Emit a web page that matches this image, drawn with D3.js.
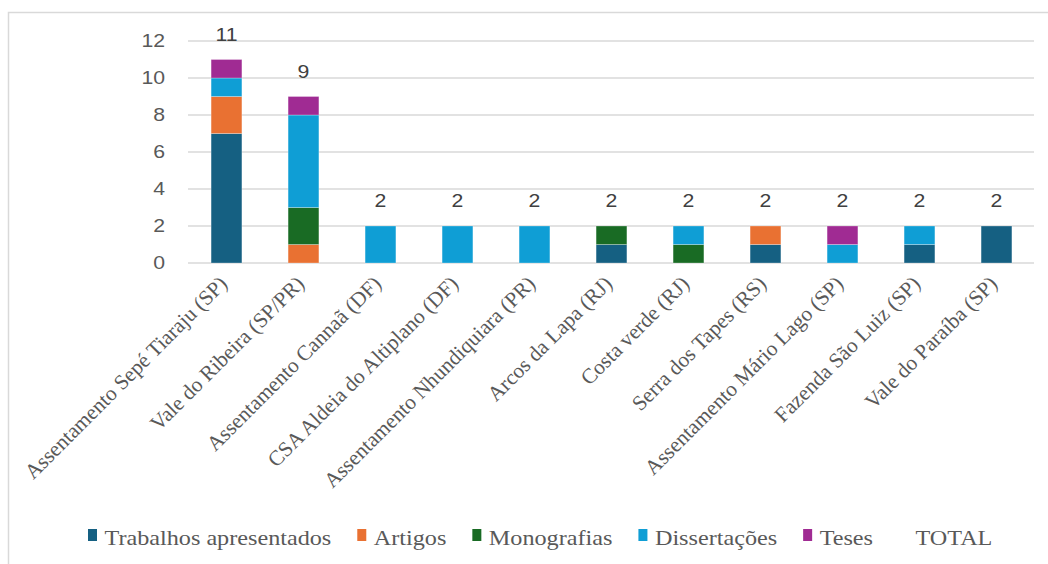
<!DOCTYPE html>
<html>
<head>
<meta charset="utf-8">
<script src="https://cdn.jsdelivr.net/npm/d3@7"></script>
<style>
  html, body { margin: 0; padding: 0; background: #fff; }
  svg { display: block; }
</style>
</head>
<body>
<svg id="chart" width="1048" height="564"></svg>
<script>
const categories = [
  "Assentamento Sepé Tiaraju (SP)",
  "Vale do Ribeira (SP/PR)",
  "Assentamento Cannaã (DF)",
  "CSA Aldeia do Altiplano (DF)",
  "Assentamento Nhundiquiara (PR)",
  "Arcos da Lapa (RJ)",
  "Costa verde (RJ)",
  "Serra dos Tapes (RS)",
  "Assentamento Mário Lago (SP)",
  "Fazenda São Luiz (SP)",
  "Vale do Paraíba (SP)"
];
const seriesNames = ["Trabalhos apresentados", "Artigos", "Monografias", "Dissertações", "Teses"];
const trabalhos    = [7, 0, 0, 0, 0, 1, 0, 1, 0, 1, 2];
const artigos      = [2, 1, 0, 0, 0, 0, 0, 1, 0, 0, 0];
const monografias  = [0, 2, 0, 0, 0, 1, 1, 0, 0, 0, 0];
const dissertacoes = [1, 5, 2, 2, 2, 0, 1, 0, 1, 1, 0];
const teses        = [1, 1, 0, 0, 0, 0, 0, 0, 1, 0, 0];
const totals       = [11, 9, 2, 2, 2, 2, 2, 2, 2, 2, 2];
const yTicks = [0, 2, 4, 6, 8, 10, 12];
const colors = ["#156082", "#E97132", "#196B24", "#0F9ED5", "#A02B93"];

const seriesValues = [trabalhos, artigos, monografias, dissertacoes, teses];
const rows = categories.map((c, i) => {
  const r = { cat: c };
  seriesNames.forEach((s, k) => r[s] = seriesValues[k][i]);
  return r;
});

const svg = d3.select("#chart");
const SANS = "'Liberation Sans', Arial, sans-serif";
const SERIF = "'Liberation Serif', 'Times New Roman', serif";
const NUM_SX = 1.18;

// outer border
svg.append("rect")
  .attr("x", 8.5).attr("y", 12.5).attr("width", 1100).attr("height", 600)
  .attr("fill", "none").attr("stroke", "#d9d9d9").attr("stroke-width", 1.5);

const x = d3.scaleBand().domain(categories).range([188, 1035]).paddingInner(0.6).paddingOuter(0.3);
const y = d3.scaleLinear().domain([0, 12]).range([263, 41]);

// gridlines
svg.append("g").selectAll("line").data(yTicks).join("line")
  .attr("x1", 188).attr("x2", 1034)
  .attr("y1", d => y(d)).attr("y2", d => y(d))
  .attr("stroke", "#d9d9d9").attr("stroke-width", 1.5);

// y axis labels
const yAxis = d3.axisLeft(y).tickValues(yTicks).tickSize(0).tickPadding(0);
const yg = svg.append("g").attr("transform", "translate(165,0)").call(yAxis);
yg.select(".domain").remove();
yg.selectAll("text")
  .attr("font-family", SANS)
  .attr("font-size", 18).attr("fill", "#595959")
  .attr("transform", `scale(${NUM_SX},1)`);

// stacked bars
const stack = d3.stack().keys(seriesNames);
const stacked = stack(rows);
svg.append("g").selectAll("g").data(stacked).join("g")
  .attr("fill", (d, i) => colors[i])
  .selectAll("rect").data(d => d.filter(p => p[1] - p[0] > 0)).join("rect")
  .attr("x", d => x(d.data.cat))
  .attr("width", x.bandwidth())
  .attr("y", d => y(d[1]))
  .attr("height", d => y(d[0]) - y(d[1]))
  .attr("stroke", "#ffffff").attr("stroke-opacity", 0.35).attr("stroke-width", 0.8);

// total labels
svg.append("g").selectAll("text").data(categories).join("text")
  .attr("transform", (d, i) => `translate(${x(d) + x.bandwidth() / 2},${y(totals[i]) - 19}) scale(${NUM_SX},1)`)
  .attr("text-anchor", "middle")
  .attr("font-family", SANS)
  .attr("font-size", 18).attr("fill", "#404040")
  .text((d, i) => totals[i]);

// category labels
svg.append("g").selectAll("text").data(categories).join("text")
  .attr("transform", d => `translate(${x(d) + x.bandwidth() / 2 + 2},${285}) rotate(-45)`)
  .attr("text-anchor", "end")
  .attr("font-family", SERIF)
  .attr("font-size", 21.3).attr("fill", "#595959")
  .text(d => d);

// legend
const LEG_SX = 1.1;
const legendNames = seriesNames.concat(["TOTAL"]);
const lg = svg.append("g");
const items = lg.selectAll("g").data(legendNames).join("g");
items.filter((d, i) => i < colors.length).append("rect")
  .attr("x", 0).attr("y", -8).attr("width", 9).attr("height", 12)
  .attr("fill", (d, i) => colors[i]);
items.append("text")
  .attr("transform", `translate(16.5,0) scale(${LEG_SX},1)`)
  .attr("dominant-baseline", "central")
  .attr("font-family", SERIF)
  .attr("font-size", 22).attr("fill", "#595959")
  .text(d => d);
let cx = 88;
items.each(function () {
  const g = d3.select(this);
  g.attr("transform", `translate(${cx},537)`);
  const w = g.select("text").node().getComputedTextLength() * LEG_SX;
  cx += 16.5 + w + 26;
});
</script>
</body>
</html>
